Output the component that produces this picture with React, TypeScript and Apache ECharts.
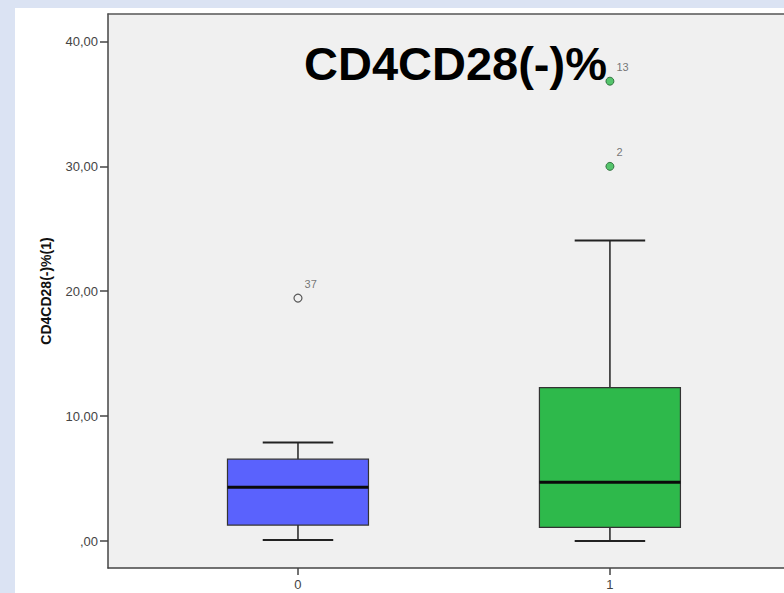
import React, { useEffect, useRef } from "react";
import * as echarts from "echarts";

// ---- data ----
const groups = [0, 1];
const groupLabels = ["0", "1"];
const lowerWhisker = [0.08, 0.0];
const quartile1 = [1.28, 1.1];
const medians = [4.3, 4.7];
const quartile3 = [6.55, 12.29];
const upperWhisker = [7.88, 24.07];
const outlierGroup = [0, 1, 1];
const outlierValue = [19.45, 30.0, 36.82];
const outlierCase = ["37", "2", "13"];
const yTicks = [0, 10, 20, 30, 40];
const titleText = "CD4CD28(-)%";
const yAxisName = "CD4CD28(-)%(1)";

const boxColors = ["#5a62fd", "#2eb94b"];
const FONT = "'Liberation Sans', Arial, sans-serif";

export default function App() {
  const ref = useRef<HTMLDivElement>(null);
  useEffect(() => {
    if (!ref.current) return;
    const chart = echarts.init(ref.current, undefined, { renderer: "svg" });
    const boxData = groups.map((g, i) => [
      g,
      lowerWhisker[i],
      quartile1[i],
      medians[i],
      quartile3[i],
      upperWhisker[i],
    ]);
    const outData = outlierGroup.map((g, i) => {
      const filled = g === 1;
      return {
        value: [g, outlierValue[i]],
        name: outlierCase[i],
        itemStyle: filled
          ? { color: boxColors[g], borderColor: "#1d5e2a", borderWidth: 1 }
          : { color: "#f0f0f0", borderColor: "#333", borderWidth: 1.2 },
      };
    });
    const option: any = {
      animation: false,
      backgroundColor: "#dbe3f3",
      textStyle: { fontFamily: FONT },
      graphic: [
        {
          type: "rect",
          z: -10,
          shape: { x: 15, y: 8, width: 769, height: 585 },
          style: { fill: "#ffffff" },
          silent: true,
        },
      ],
      title: {
        text: titleText,
        left: 304,
        top: 40,
        padding: 0,
        textStyle: {
          fontFamily: FONT,
          fontSize: 47,
          fontWeight: "bold",
          color: "#000",
          lineHeight: 47,
        },
        z: 10,
      },
      grid: {
        left: 108,
        top: 14,
        right: 0,
        bottom: 25,
        show: true,
        backgroundColor: "#f0f0f0",
        borderWidth: 0,
      },
      xAxis: [
        {
          type: "value",
          min: -0.609,
          max: 1.558,
          splitLine: { show: false },
          axisLine: { onZero: false, lineStyle: { color: "#444", width: 1.5 } },
          axisTick: {
            customValues: groups,
            length: 7,
            lineStyle: { color: "#444", width: 1.5 },
          },
          axisLabel: {
            customValues: groups,
            formatter: (v: number) => groupLabels[groups.indexOf(v)] ?? "",
            color: "#444",
            fontSize: 13,
            margin: 10,
          },
        },
        {
          type: "value",
          position: "top",
          min: -0.609,
          max: 1.558,
          splitLine: { show: false },
          axisLine: { show: true, onZero: false, lineStyle: { color: "#555", width: 1.5 } },
          axisTick: { show: false },
          axisLabel: { show: false },
        },
      ],
      yAxis: {
        type: "value",
        min: -2.16,
        max: 42.2,
        splitLine: { show: false },
        axisLine: { show: true, onZero: false, lineStyle: { color: "#444", width: 1.5 } },
        axisTick: {
          show: true,
          customValues: yTicks,
          length: 8,
          lineStyle: { color: "#444", width: 1.5 },
        },
        axisLabel: {
          customValues: yTicks,
          formatter: (v: number) => {
            const s = v.toFixed(2).replace(".", ",");
            return s.startsWith("0,") ? s.slice(1) : s;
          },
          color: "#444",
          fontSize: 13,
          margin: 10,
        },
        name: yAxisName,
        nameLocation: "middle",
        nameRotate: 90,
        nameGap: 55,
        nameTextStyle: {
          fontFamily: FONT,
          fontSize: 14,
          fontWeight: "bold",
          color: "#111",
        },
      },
      series: [
        {
          type: "custom",
          xAxisIndex: 0,
          data: boxData,
          renderItem: (params: any, api: any) => {
            const x = api.value(0);
            const lo = api.coord([x, api.value(1)]);
            const q1 = api.coord([x, api.value(2)]);
            const md = api.coord([x, api.value(3)]);
            const q3 = api.coord([x, api.value(4)]);
            const hi = api.coord([x, api.value(5)]);
            const bw = api.size([0.452, 0])[0];
            const cw = bw / 2;
            const cx = lo[0];
            const stroke = "#222";
            return {
              type: "group",
              children: [
                {
                  type: "line",
                  shape: { x1: cx, y1: q3[1], x2: cx, y2: hi[1] },
                  style: { stroke, lineWidth: 1.5 },
                },
                {
                  type: "line",
                  shape: { x1: cx - cw / 2, y1: hi[1], x2: cx + cw / 2, y2: hi[1] },
                  style: { stroke, lineWidth: 2 },
                },
                {
                  type: "line",
                  shape: { x1: cx, y1: q1[1], x2: cx, y2: lo[1] },
                  style: { stroke, lineWidth: 1.5 },
                },
                {
                  type: "line",
                  shape: { x1: cx - cw / 2, y1: lo[1], x2: cx + cw / 2, y2: lo[1] },
                  style: { stroke, lineWidth: 2 },
                },
                {
                  type: "rect",
                  shape: { x: cx - bw / 2, y: q3[1], width: bw, height: q1[1] - q3[1] },
                  style: {
                    fill: boxColors[params.dataIndex],
                    stroke: "#333",
                    lineWidth: 1.2,
                  },
                },
                {
                  type: "line",
                  shape: { x1: cx - bw / 2, y1: md[1], x2: cx + bw / 2, y2: md[1] },
                  style: { stroke: "#0a0a0a", lineWidth: 3 },
                },
              ],
            };
          },
        },
        {
          type: "scatter",
          xAxisIndex: 0,
          symbol: "circle",
          symbolSize: 8,
          data: outData,
          label: {
            show: true,
            position: "right",
            distance: 2,
            offset: [0, -14],
            formatter: (p: any) => p.name,
            color: "#555",
            fontSize: 11,
            fontFamily: FONT,
          },
          z: 5,
        },
      ],
    };
    chart.setOption(option);
    return () => chart.dispose();
  }, []);
  return (
    <div
      ref={ref}
      style={{ position: "fixed", left: 0, top: 0, width: 784, height: 593 }}
    />
  );
}
